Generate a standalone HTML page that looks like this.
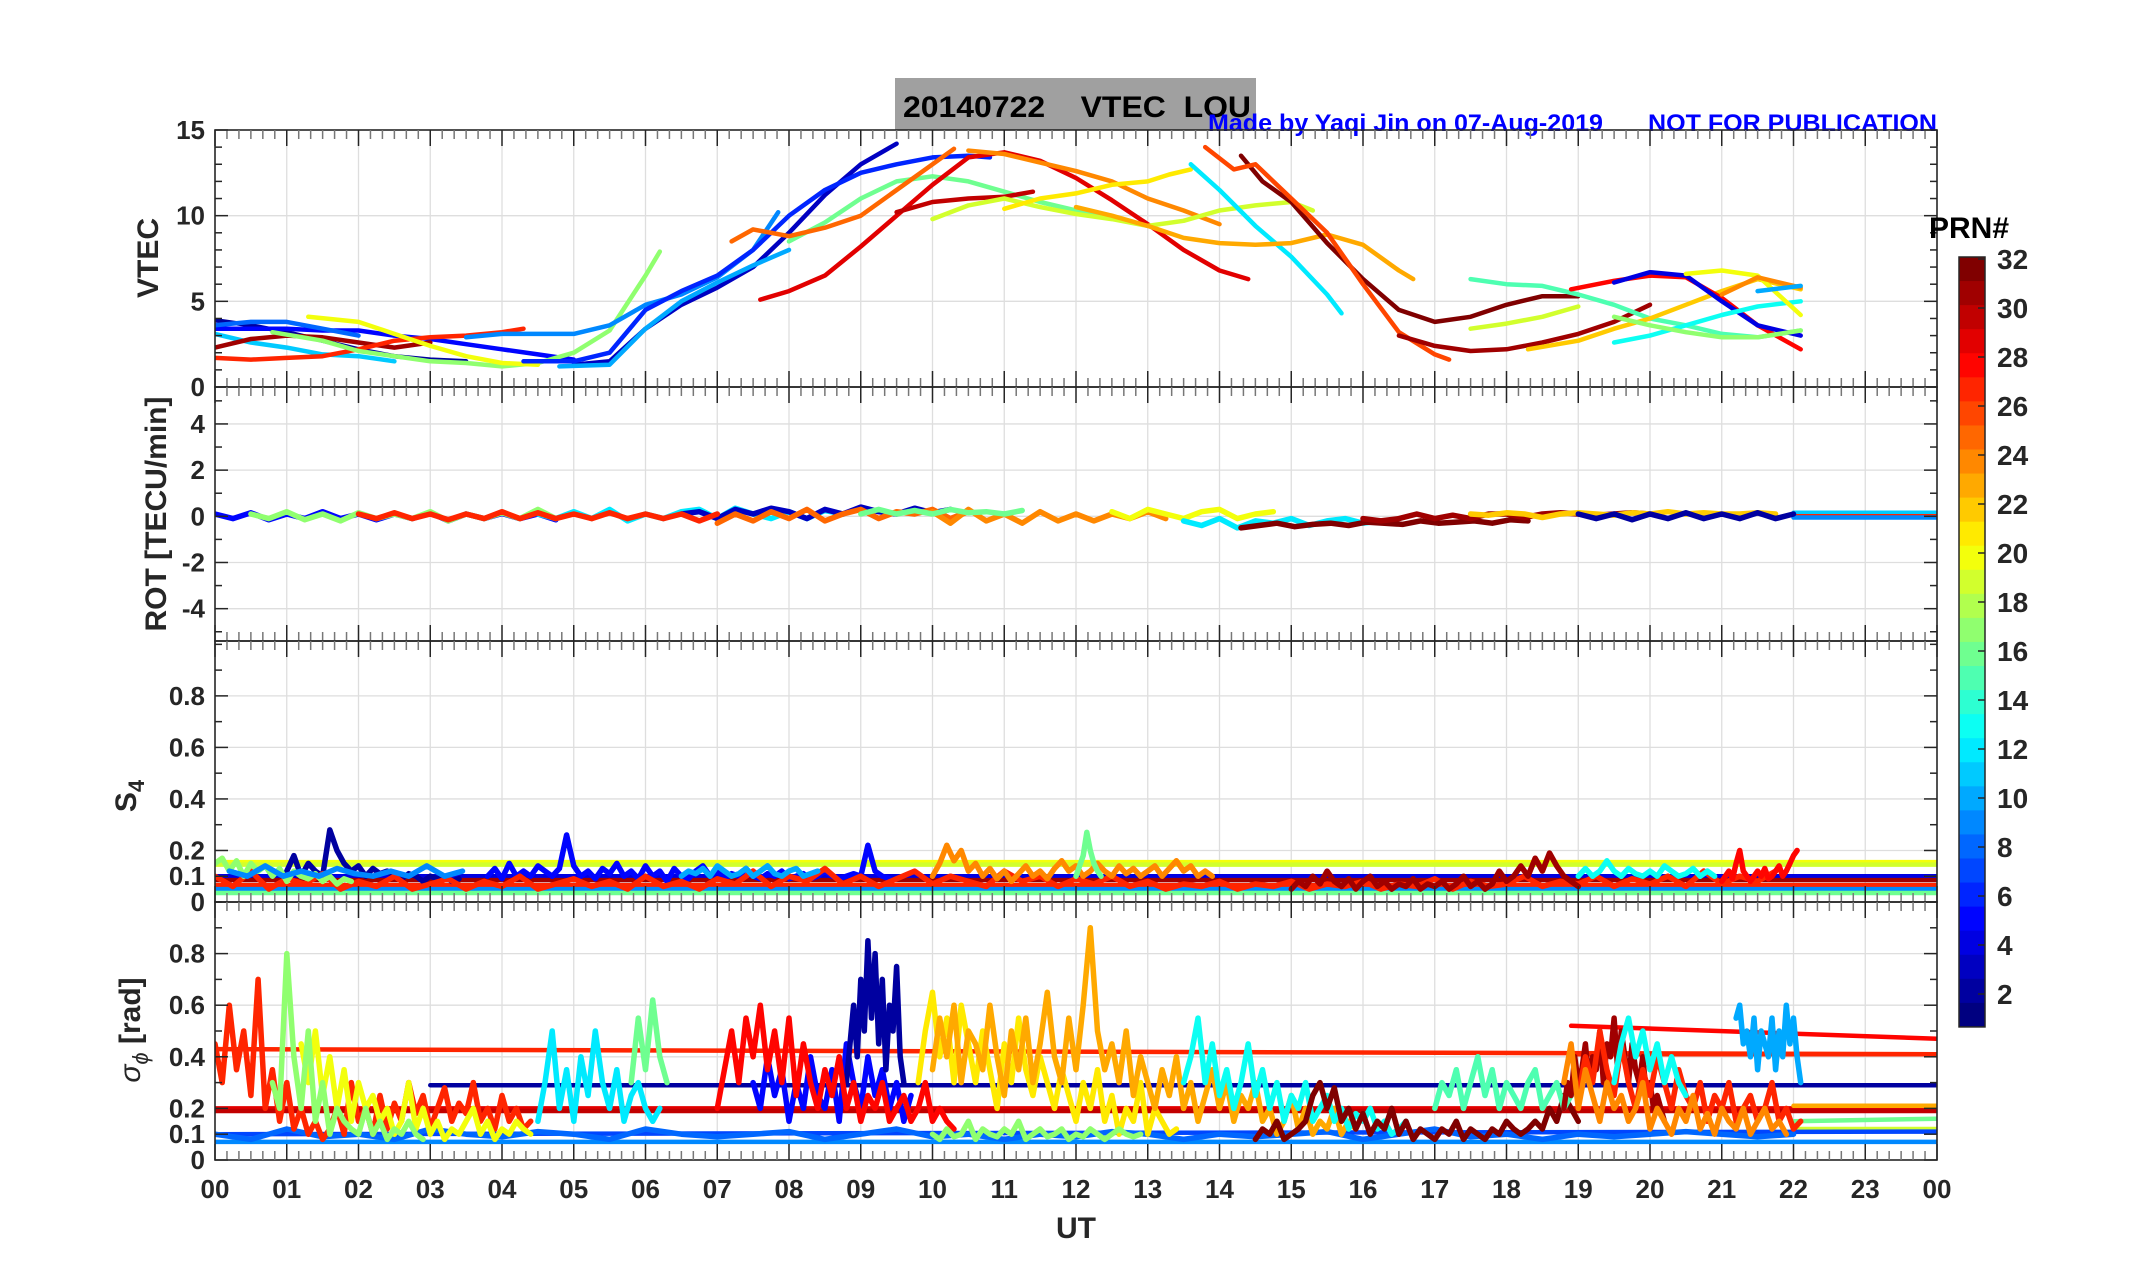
<!DOCTYPE html>
<html><head><meta charset="utf-8"><title>20140722 VTEC LOU</title>
<style>
html,body{margin:0;padding:0;background:#fff;}
svg{display:block;font-family:"Liberation Sans",Arial,sans-serif;}
</style></head>
<body>
<svg id="chart" width="2153" height="1286" viewBox="0 0 2153 1286" xmlns="http://www.w3.org/2000/svg">
<rect x="0" y="0" width="2153" height="1286" fill="#fff"/>
<rect x="895" y="78" width="361" height="52" fill="#a0a0a0"/>
<text x="903" y="117" font-size="30" font-weight="bold" fill="#000" xml:space="preserve" textLength="348" lengthAdjust="spacingAndGlyphs">20140722    VTEC  LOU</text>
<text x="1208" y="131" font-size="24" font-weight="bold" fill="#0000ff" textLength="395" lengthAdjust="spacingAndGlyphs">Made by Yaqi Jin on 07-Aug-2019</text>
<text x="1648" y="131" font-size="24" font-weight="bold" fill="#0000ff" textLength="289" lengthAdjust="spacingAndGlyphs">NOT FOR PUBLICATION</text>
<g id="layer"></g>
</svg>
<script>
// ---------------- DATA ----------------
const xTickLabels = ["00","01","02","03","04","05","06","07","08","09","10","11","12","13","14","15","16","17","18","19","20","21","22","23","00"];
const cbTickLabels = [2,4,6,8,10,12,14,16,18,20,22,24,26,28,30,32];

// VTEC arcs: PRN, times (UT h), values (TECU)
const vtecPrn = [2,5,8,11,31,27,17,20,9,3,6,10,16,25,29,30,24,19,21,12,23,32,26,31,15,19,22,28,4,13,17,20,24,10];
const vtecT = [
 [0,0.5,1,1.5,2,2.5,3,3.5],
 [0,0.5,1,1.5,2,2.5,3,3.5,4,4.5,5],
 [0,0.5,1,1.5,2],
 [0,0.5,1,1.5,2,2.5],
 [0,0.5,1,1.5,2,2.5,3],
 [0,0.5,1,1.5,2,2.5,3,3.5,4,4.3],
 [0.8,1.5,2,2.5,3,3.5,4,4.5,5,5.5,6,6.2],
 [1.3,2,2.5,3,3.5,4,4.5],
 [3.5,4,4.5,5,5.5,6,6.5,7,7.5,7.85],
 [5,5.5,6,6.5,7,7.5,8,8.5,9,9.5],
 [4.3,5,5.5,6,6.5,7,7.5,8,8.5,9,9.5,10,10.5,10.8],
 [4.8,5.5,6,6.5,7,7.5,8],
 [8,8.5,9,9.5,10,10.5,11,11.5,12,12.5],
 [7.2,7.5,8,8.5,9,9.5,10,10.3],
 [7.6,8,8.5,9,9.5,10,10.5,11,11.5,12,12.5,13,13.5,14,14.4],
 [9.5,10,10.5,11,11.4],
 [10.5,11,11.5,12,12.5,13,13.5,14],
 [10,10.5,11,11.5,12,12.5,13,13.5,14,14.5,15,15.3],
 [11,11.5,12,12.5,13,13.3,13.6],
 [13.6,14,14.5,15,15.5,15.7],
 [12,12.5,13,13.5,14,14.5,15,15.5,16,16.5,16.7],
 [14.3,14.6,15,15.5,16,16.5,17,17.5,18,18.5,19],
 [13.8,14.2,14.5,15,15.5,16,16.5,17,17.2],
 [16.5,17,17.5,18,18.5,19,19.5,20],
 [17.5,18,18.5,19,19.5,20,20.5,21,21.5,22.1],
 [17.5,18,18.5,19],
 [18.3,19,19.5,20,20.5,21,21.5,22.1],
 [18.9,19.5,20,20.5,21,21.5,22.1],
 [19.5,20,20.5,21,21.5,22.1],
 [19.5,20,20.5,21,21.5,22.1],
 [19.5,20,20.5,21,21.5,22.1],
 [20.5,21,21.5,22.1],
 [21,21.5,22.1],
 [21.5,22.1]
];
const vtecV = [
 [3.9,3.6,3.2,2.7,2.2,1.8,1.6,1.5],
 [3.4,3.4,3.4,3.3,3.3,3.0,2.8,2.5,2.2,1.9,1.6],
 [3.6,3.8,3.8,3.4,3.0],
 [3.1,2.6,2.3,1.9,1.8,1.5],
 [2.3,2.8,3.0,2.9,2.6,2.3,2.6],
 [1.7,1.6,1.7,1.8,2.2,2.7,2.9,3.0,3.2,3.4],
 [3.2,2.7,2.1,1.8,1.5,1.4,1.2,1.4,2.0,3.3,6.5,7.9],
 [4.1,3.8,3.1,2.4,1.8,1.4,1.3],
 [2.9,3.1,3.1,3.1,3.6,4.8,5.4,6.4,8.0,10.2],
 [1.3,1.5,3.4,4.8,5.8,7.0,9.0,11.2,13.0,14.2],
 [1.5,1.5,2.0,4.5,5.6,6.5,8.0,10.0,11.5,12.5,13.0,13.4,13.5,13.4],
 [1.2,1.3,3.4,5.0,6.1,7.1,8.0],
 [8.5,9.6,11.0,12.0,12.3,12.0,11.4,10.8,10.3,10.0],
 [8.5,9.2,8.8,9.3,10.0,11.5,13.0,13.9],
 [5.1,5.6,6.5,8.2,10.0,11.8,13.4,13.7,13.2,12.2,10.9,9.5,8.0,6.8,6.3],
 [10.2,10.8,11.0,11.1,11.4],
 [13.8,13.6,13.1,12.6,12.0,11.0,10.3,9.5],
 [9.8,10.6,11.0,10.5,10.1,9.8,9.4,9.7,10.3,10.6,10.8,10.3],
 [10.4,11.0,11.3,11.8,12.0,12.4,12.7],
 [13.0,11.5,9.4,7.6,5.4,4.3],
 [10.5,10.0,9.4,8.7,8.4,8.3,8.4,8.9,8.3,6.8,6.3],
 [13.5,12.0,10.8,8.4,6.3,4.5,3.8,4.1,4.8,5.3,5.3],
 [14.0,12.7,13.0,11.0,9.0,6.0,3.2,1.9,1.6],
 [3.0,2.4,2.1,2.2,2.6,3.1,3.8,4.8],
 [6.3,6.0,5.9,5.4,4.8,4.0,3.6,3.1,2.9,3.3],
 [3.4,3.7,4.1,4.7],
 [2.2,2.7,3.4,4.0,4.8,5.6,6.3,5.7],
 [5.7,6.2,6.5,6.4,5.2,3.6,2.2],
 [6.1,6.7,6.5,5.0,3.6,3.0],
 [2.6,3.0,3.6,4.2,4.7,5.0],
 [4.1,3.6,3.2,2.9,2.9,3.3],
 [6.6,6.8,6.5,4.2],
 [5.4,6.4,5.8],
 [5.6,5.9]
];

// ROT noisy traces (TECU/min), sampled every rotDt hours from rotT0
const rotPrn = [5,17,12,3,27,25,24,20,12,32,31,22,2,16];
const rotT0 = [0,0.5,4.5,6.5,2.0,7.0,10.0,12.5,13.5,14.3,16.0,17.5,19.0,9.0];
const rotV = [
 [0.1,-0.1,0.15,-0.15,0.1,-0.1,0.2,-0.1,0.1,-0.15,0.1,-0.1,0.15,-0.2,0.1,-0.1,0.12,-0.1,0.1,-0.15],
 [0.1,-0.1,0.2,-0.15,0.1,-0.2,0.15,-0.1,0.1,-0.1,0.2,-0.2,0.1,-0.1,0.15,-0.1,0.3,-0.1],
 [0.1,-0.1,0.2,-0.1,0.3,-0.2,0.1,-0.1,0.2,0.3,-0.1,0.35,0.1,-0.1,0.2,-0.1,0.25,0.1],
 [0.1,0.2,-0.1,0.3,0.1,0.35,0.2,-0.1,0.3,0.1,0.4,0.2,0.1,0.35,0.15,0.3],
 [0.1,-0.1,0.15,-0.1,0.1,-0.15,0.1,-0.1,0.2,-0.1,0.15,-0.1,0.1,-0.1,0.15,-0.1,0.1,-0.1,0.1,-0.2,0.1],
 [-0.3,0.1,-0.2,0.2,-0.1,0.3,-0.2,0.1,0.3,-0.1,0.2,0.1,0.3,-0.1,0.2],
 [0.2,-0.3,0.3,-0.2,0.1,-0.3,0.2,-0.2,0.1,-0.2,0.1,-0.1,0.2,-0.1],
 [0.2,-0.1,0.3,0.1,-0.1,0.2,0.3,-0.1,0.1,0.2],
 [-0.2,-0.4,-0.1,-0.5,-0.2,-0.3,-0.1,-0.4,-0.2,-0.1,-0.3,-0.2],
 [-0.5,-0.4,-0.3,-0.45,-0.35,-0.3,-0.4,-0.25,-0.3,-0.35,-0.2,-0.3,-0.25,-0.2,-0.3,-0.15,-0.2],
 [-0.1,-0.2,-0.1,0.1,-0.1,0.05,-0.1,0.1,0.1,-0.05,0.1,0.15,0.1,0.05,0.1,0.15,0.1],
 [0.1,0.05,0.15,0.1,-0.05,0.1,0.15,0.1,0.05,0.15,0.1,0.2,0.1,0.15,0.1,0.1,0.15,0.1],
 [0.1,-0.1,0.1,-0.15,0.1,-0.1,0.15,-0.1,0.1,-0.1,0.15,-0.1,0.1],
 [0.1,0.3,0.1,0.25,0.1,0.3,0.15,0.2,0.1,0.25]
];
const rotDt = 0.25;
// ROT flat fill-in lines: PRN, t0, t1, value
const rotFlatPrn = [11,27,9];
const rotFlatT0 = [22,22,22];
const rotFlatT1 = [24,24,24];
const rotFlatV = [0.15,0.0,-0.05];

// S4 noisy traces
const s4Prn = [2,5,27,17,31,24,28,10,16,13,9];
const s4T0 = [1.0,3.8,0.0,0.0,15.0,10.0,21.0,6.5,12.0,19.0,0.2];
const s4Dt = [0.1,0.1,0.25,0.1,0.1,0.1,0.05,0.1,0.05,0.1,0.25];
const s4V = [
 [0.12,0.18,0.1,0.15,0.12,0.1,0.28,0.2,0.15,0.12,0.14,0.1,0.13,0.11,0.12,0.1,0.09,0.11,0.1,0.08,0.1,0.09,0.1,0.08,0.09],
 [0.1,0.13,0.09,0.15,0.1,0.12,0.1,0.14,0.12,0.1,0.13,0.26,0.14,0.1,0.12,0.09,0.13,0.11,0.15,0.1,0.12,0.09,0.14,0.1,0.12,0.08,0.13,0.1,0.09,0.12,0.14,0.1,0.12,0.09,0.11,0.1,0.13,0.1,0.09,0.11,0.1,0.12,0.09,0.1,0.11,0.09,0.1,0.12,0.1,0.09,0.1,0.11,0.1,0.22,0.12,0.1,0.09],
 [0.1,0.06,0.12,0.05,0.09,0.07,0.11,0.05,0.08,0.06,0.1,0.05,0.07,0.09,0.05,0.08,0.06,0.1,0.05,0.07,0.09,0.06,0.08,0.05,0.1,0.06,0.08,0.05,0.09,0.07,0.12,0.06,0.1,0.08,0.13,0.07,0.1,0.06,0.09,0.12,0.07,0.1,0.08,0.06,0.12,0.08,0.1,0.06,0.09,0.07,0.1,0.06,0.08,0.05,0.07,0.06,0.08,0.05,0.07,0.06,0.08,0.05,0.07,0.06,0.08,0.05,0.07,0.06,0.09,0.05,0.08,0.06,0.07,0.1,0.06,0.08,0.07,0.1,0.06,0.09,0.07,0.1,0.06,0.12,0.07,0.1,0.08,0.12],
 [0.15,0.17,0.12,0.16,0.1,0.15,0.12,0.14,0.1,0.13,0.08,0.12,0.1,0.09,0.11,0.08,0.1,0.07,0.09,0.08],
 [0.05,0.08,0.06,0.1,0.07,0.12,0.08,0.06,0.09,0.05,0.08,0.1,0.06,0.08,0.05,0.07,0.06,0.09,0.05,0.07,0.06,0.08,0.05,0.07,0.1,0.06,0.08,0.05,0.07,0.12,0.08,0.1,0.14,0.1,0.17,0.12,0.19,0.14,0.1,0.08,0.06],
 [0.1,0.15,0.22,0.16,0.2,0.12,0.15,0.1,0.13,0.09,0.12,0.08,0.11,0.14,0.1,0.12,0.09,0.13,0.16,0.12,0.14,0.1,0.12,0.15,0.12,0.1,0.14,0.11,0.13,0.1,0.12,0.14,0.1,0.13,0.16,0.12,0.14,0.1,0.12,0.1],
 [0.08,0.1,0.12,0.09,0.15,0.2,0.12,0.1,0.08,0.1,0.12,0.1,0.13,0.09,0.1,0.12,0.14,0.1,0.12,0.15,0.18,0.2],
 [0.1,0.12,0.11,0.13,0.1,0.14,0.12,0.1,0.11,0.13,0.1,0.12,0.14,0.11,0.1,0.12,0.13,0.1,0.11,0.12],
 [0.1,0.14,0.18,0.27,0.2,0.15,0.12,0.1],
 [0.1,0.13,0.1,0.12,0.16,0.12,0.1,0.13,0.11,0.1,0.12,0.1,0.14,0.12,0.1,0.11,0.13,0.1,0.12,0.1],
 [0.12,0.1,0.14,0.1,0.12,0.1,0.13,0.11,0.1,0.12,0.1,0.14,0.1,0.12]
];
const s4FlatPrn = [20,19,4,31,27,9,16];
const s4FlatT0 = [0,0,0,0,0,0,0];
const s4FlatT1 = [24,24,24,24,24,24,24];
const s4FlatV = [0.155,0.145,0.1,0.085,0.065,0.05,0.035];

// Sigma-phi noisy traces (rad)
const spPrn = [8,27,20,17,12,16,5,2,28,21,23,17,13,32,15,31,27,24,10,13];
const spT0 = [0.0,0.0,1.2,0.8,4.5,5.8,7.5,8.8,7.0,9.8,10.0,10.0,13.5,14.5,17.0,18.8,19.0,18.8,21.2,19.5];
const spDt = [0.5,0.1,0.1,0.1,0.1,0.1,0.1,0.05,0.1,0.1,0.1,0.1,0.1,0.1,0.1,0.05,0.1,0.1,0.05,0.1];
const spV = [
 [0.1,0.08,0.12,0.09,0.1,0.08,0.12,0.1,0.09,0.11,0.1,0.08,0.12,0.1,0.09,0.1,0.11,0.08,0.1,0.12,0.09,0.1,0.08,0.1,0.09,0.11,0.1,0.08,0.1,0.09,0.1,0.11,0.08,0.1,0.12,0.09,0.1,0.08,0.1,0.09,0.1,0.11,0.1,0.09,0.1],
 [0.45,0.3,0.6,0.35,0.5,0.25,0.7,0.2,0.35,0.15,0.3,0.12,0.2,0.1,0.15,0.08,0.12,0.2,0.1,0.3,0.15,0.2,0.1,0.25,0.12,0.22,0.15,0.3,0.18,0.25,0.12,0.2,0.28,0.15,0.22,0.18,0.3,0.15,0.2,0.12,0.25,0.15,0.2,0.12,0.15],
 [0.45,0.3,0.5,0.25,0.4,0.2,0.35,0.15,0.3,0.2,0.25,0.15,0.2,0.1,0.15,0.3,0.12,0.2,0.1,0.15,0.08,0.12,0.1,0.15,0.2,0.1,0.15,0.08,0.12,0.1,0.15,0.12,0.1],
 [0.3,0.2,0.8,0.4,0.2,0.5,0.15,0.3,0.1,0.2,0.15,0.12,0.1,0.2,0.1,0.15,0.08,0.12,0.1,0.15,0.1,0.08],
 [0.15,0.3,0.5,0.2,0.35,0.15,0.4,0.25,0.5,0.3,0.2,0.35,0.15,0.25,0.3,0.2,0.15,0.2],
 [0.3,0.55,0.35,0.62,0.4,0.3],
 [0.3,0.2,0.4,0.25,0.35,0.15,0.3,0.2,0.4,0.25,0.2,0.35,0.15,0.45,0.3,0.2,0.4,0.25,0.35,0.2,0.3,0.15,0.25],
 [0.3,0.45,0.6,0.4,0.7,0.5,0.85,0.55,0.8,0.45,0.7,0.35,0.6,0.5,0.75,0.4,0.3],
 [0.2,0.35,0.5,0.3,0.55,0.4,0.6,0.35,0.5,0.3,0.55,0.25,0.45,0.3,0.2,0.35,0.25,0.4,0.2,0.3,0.15,0.25,0.2,0.3,0.15,0.2,0.25,0.15,0.2,0.3,0.15,0.2,0.15,0.12],
 [0.3,0.5,0.65,0.4,0.55,0.3,0.6,0.45,0.3,0.5,0.35,0.2,0.45,0.3,0.55,0.35,0.25,0.4,0.3,0.2,0.35,0.25,0.15,0.3,0.2,0.35,0.15,0.25,0.1,0.2,0.15,0.3,0.1,0.2,0.15,0.1,0.12],
 [0.35,0.55,0.4,0.6,0.3,0.5,0.45,0.35,0.6,0.4,0.25,0.5,0.35,0.55,0.3,0.45,0.65,0.4,0.3,0.55,0.35,0.6,0.9,0.5,0.35,0.45,0.3,0.5,0.25,0.4,0.3,0.2,0.35,0.25,0.4,0.2,0.3,0.15,0.25,0.35,0.2,0.3,0.15,0.25,0.2,0.3,0.15,0.2,0.1,0.15,0.25,0.12,0.2,0.1,0.15,0.12,0.2,0.1,0.15,0.12],
 [0.1,0.08,0.12,0.09,0.1,0.15,0.08,0.12,0.1,0.09,0.12,0.1,0.15,0.08,0.1,0.12,0.09,0.1,0.12,0.08,0.1,0.09,0.12,0.1,0.08,0.1,0.12,0.1,0.09,0.1],
 [0.3,0.4,0.55,0.3,0.45,0.25,0.35,0.2,0.3,0.45,0.25,0.35,0.2,0.3,0.15,0.25,0.2,0.3,0.15,0.2,0.25,0.15,0.2,0.12,0.18,0.15,0.2,0.12,0.15,0.1,0.12,0.15],
 [0.08,0.12,0.1,0.15,0.08,0.1,0.12,0.15,0.25,0.3,0.2,0.28,0.15,0.2,0.12,0.18,0.1,0.15,0.12,0.2,0.1,0.15,0.08,0.12,0.1,0.08,0.12,0.1,0.15,0.08,0.12,0.1,0.08,0.12,0.1,0.15,0.12,0.1,0.12,0.15,0.12,0.2,0.15,0.25,0.2,0.15],
 [0.2,0.3,0.25,0.35,0.2,0.3,0.4,0.25,0.35,0.2,0.3,0.25,0.2,0.3,0.35,0.2,0.25,0.3,0.2,0.25],
 [0.2,0.3,0.25,0.4,0.3,0.35,0.45,0.3,0.4,0.35,0.5,0.3,0.45,0.4,0.55,0.35,0.5,0.4,0.3,0.45,0.35,0.3,0.4,0.25,0.3,0.2,0.25,0.2,0.15],
 [0.25,0.4,0.3,0.5,0.35,0.25,0.45,0.3,0.2,0.35,0.25,0.4,0.3,0.2,0.35,0.25,0.2,0.3,0.15,0.25,0.2,0.3,0.15,0.2,0.25,0.15,0.2,0.3,0.15,0.2,0.12,0.15],
 [0.3,0.45,0.2,0.35,0.25,0.15,0.3,0.2,0.25,0.15,0.2,0.3,0.12,0.2,0.15,0.1,0.2,0.15,0.25,0.12,0.18,0.1,0.2,0.15,0.12,0.2,0.1,0.15,0.2,0.12,0.15,0.1],
 [0.55,0.6,0.45,0.5,0.4,0.55,0.35,0.5,0.45,0.4,0.55,0.35,0.5,0.4,0.6,0.45,0.55,0.4,0.3],
 [0.3,0.45,0.55,0.4,0.5,0.35,0.45,0.3,0.4,0.3,0.25]
];
const spFlatPrn = [27,28,27,2,29,30,23,16,19,7,9];
const spFlatT0 = [0,18.9,18.9,3,0,0,22,22,22,0,0];
const spFlatT1 = [24,24,24,24,24,24,24,24,24,24,24];
const spFlatV0 = [0.43,0.52,0.41,0.29,0.2,0.19,0.21,0.15,0.12,0.1,0.07];
const spFlatV1 = [0.41,0.47,0.41,0.29,0.2,0.19,0.21,0.16,0.12,0.11,0.07];

// ---------------- RENDER ----------------
const NS = "http://www.w3.org/2000/svg";
const layer = document.getElementById("layer");
const X0 = 215, X1 = 1937;
const xs = t => X0 + (X1 - X0) * t / 24;
function el(tag, attrs, parent){
  const e = document.createElementNS(NS, tag);
  for (const k in attrs) e.setAttribute(k, attrs[k]);
  (parent || layer).appendChild(e);
  return e;
}
function clamp(v){ return Math.max(0, Math.min(1, v)); }
function jet(p){
  const v = (p - 1) / 31;
  const r = clamp(Math.min(4*v - 1.5, -4*v + 4.5));
  const g = clamp(Math.min(4*v - 0.5, -4*v + 3.5));
  const b = clamp(Math.min(4*v + 0.5, -4*v + 2.5));
  return `rgb(${Math.round(r*255)},${Math.round(g*255)},${Math.round(b*255)})`;
}
const panels = [
  {name:"vtec", top:130, bot:387, ymin:0, ymax:15, ticks:[0,5,10,15], grid:[5,10], minor:1, labels:["0","5","10","15"]},
  {name:"rot", top:387, bot:641, ymin:-5.4, ymax:5.6, ticks:[-4,-2,0,2,4], grid:[-4,-2,0,2,4], minor:1, labels:["-4","-2","0","2","4"]},
  {name:"s4", top:641, bot:902, ymin:0, ymax:1.013, ticks:[0,0.1,0.2,0.4,0.6,0.8], grid:[0.2,0.4,0.6,0.8], minor:0.1, labels:["0","0.1","0.2","0.4","0.6","0.8"]},
  {name:"sigma-phi", top:902, bot:1160, ymin:0, ymax:1.0, ticks:[0,0.1,0.2,0.4,0.6,0.8], grid:[0.2,0.4,0.6,0.8], minor:0.1, labels:["0","0.1","0.2","0.4","0.6","0.8"]}
];
panels.forEach(p => { p.ys = v => p.bot - (p.bot - p.top) * (v - p.ymin) / (p.ymax - p.ymin); });

const defs = el("defs", {});
panels.forEach((p,i) => {
  const cp = el("clipPath", {id:"clip"+i}, defs);
  el("rect", {x:X0, y:p.top, width:X1-X0, height:p.bot-p.top}, cp);
});

panels.forEach(p => {
  const g = el("g", {});
  
  
  for (let h = 1; h < 24; h++) el("line", {x1:xs(h), x2:xs(h), y1:p.top, y2:p.bot, stroke:"#dedede", "stroke-width":1.3}, g);
  p.grid.forEach(v => el("line", {x1:X0, x2:X1, y1:p.ys(v), y2:p.ys(v), stroke:"#dedede", "stroke-width":1.3}, g));
});

function poly(points, color, w, parent){
  const d = points.map((q,i) => (i ? "L" : "M") + q[0].toFixed(1) + "," + q[1].toFixed(1)).join("");
  return el("path", {d:d, fill:"none", stroke:color, "stroke-width":w, "stroke-linejoin":"round", "stroke-linecap":"round"}, parent);
}

{
  const p = panels[0];
  const g = el("g", {"clip-path":"url(#clip0)"});
  
  
  vtecPrn.forEach((prn,i) => {
    const pts = vtecT[i].map((t,j) => [xs(t), p.ys(vtecV[i][j])]);
    const path = poly(pts, jet(prn), 4.5, g);
    
    
  });
}
{
  const p = panels[1];
  const g = el("g", {"clip-path":"url(#clip1)"});
  
  
  rotFlatPrn.forEach((prn,i) => {
    const line = poly([[xs(rotFlatT0[i]), p.ys(rotFlatV[i])],[xs(rotFlatT1[i]), p.ys(rotFlatV[i])]], jet(prn), 4.5, g);
    
    
  });
  rotPrn.forEach((prn,i) => {
    const pts = rotV[i].map((v,j) => [xs(rotT0[i] + j*rotDt), p.ys(v)]);
    const path = poly(pts, jet(prn), 5.5, g);
    
    
  });
}
{
  const p = panels[2];
  const g = el("g", {"clip-path":"url(#clip2)"});
  
  
  s4FlatPrn.forEach((prn,i) => {
    const line = poly([[xs(s4FlatT0[i]), p.ys(s4FlatV[i])],[xs(s4FlatT1[i]), p.ys(s4FlatV[i])]], jet(prn), 4.5, g);
    
    
  });
  s4Prn.forEach((prn,i) => {
    const pts = s4V[i].map((v,j) => [xs(s4T0[i] + j*s4Dt[i]), p.ys(v)]);
    const path = poly(pts, jet(prn), 5.5, g);
    
    
  });
}
{
  const p = panels[3];
  const g = el("g", {"clip-path":"url(#clip3)"});
  
  
  spFlatPrn.forEach((prn,i) => {
    const line = poly([[xs(spFlatT0[i]), p.ys(spFlatV0[i])],[xs(spFlatT1[i]), p.ys(spFlatV1[i])]], jet(prn), 4.5, g);
    
    
  });
  spPrn.forEach((prn,i) => {
    const pts = spV[i].map((v,j) => [xs(spT0[i] + j*spDt[i]), p.ys(v)]);
    const path = poly(pts, jet(prn), 5.5, g);
    
    
  });
}

panels.forEach((p,pi) => {
  const g = el("g", {});
  
  
  el("rect", {x:X0, y:p.top, width:X1-X0, height:p.bot-p.top, fill:"none", stroke:"#262626", "stroke-width":1.6}, g);
  for (let m = 0; m <= 144; m++) {
    const x = X0 + (X1-X0)*m/144;
    const major = m % 6 === 0;
    const L = major ? 16 : 9;
    const c = major ? "#262626" : "#777";
    el("line", {x1:x, x2:x, y1:p.top, y2:p.top+L, stroke:c, "stroke-width":1.5}, g);
    el("line", {x1:x, x2:x, y1:p.bot, y2:p.bot-L, stroke:c, "stroke-width":1.5}, g);
  }
  for (let v = Math.ceil(p.ymin/p.minor)*p.minor; v <= p.ymax + 1e-9; v += p.minor) {
    const y = p.ys(v);
    const major = p.ticks.some(t => Math.abs(t - v) < 1e-6);
    const L = major ? 13 : 7;
    el("line", {x1:X0, x2:X0+L, y1:y, y2:y, stroke:"#262626", "stroke-width":1.5}, g);
    el("line", {x1:X1, x2:X1-L, y1:y, y2:y, stroke:"#262626", "stroke-width":1.5}, g);
  }
  p.ticks.forEach((t,i) => {
    const tx = el("text", {x:205, y:p.ys(t)+9, "text-anchor":"end", "font-size":26, "font-weight":"bold", fill:"#262626"}, g);
    tx.textContent = p.labels[i];
    
    
  });
});
xTickLabels.forEach((lab,i) => {
  const tx = el("text", {x:xs(i), y:1198, "text-anchor":"middle", "font-size":26, "font-weight":"bold", fill:"#262626"});
  tx.textContent = lab;
  
  
});
{
  const t = el("text", {x:xs(12), y:1238, "text-anchor":"middle", "font-size":30, "font-weight":"bold", fill:"#262626"});
  t.textContent = "UT";
  
  
}
function yTitle(text, x, y, name, html){
  const t = el("text", {x:0, y:0, transform:`translate(${x},${y}) rotate(-90)`, "text-anchor":"middle", "font-size":30, "font-weight":"bold", fill:"#262626"});
  if (html) t.innerHTML = html; else t.textContent = text;
  
  
}
yTitle("VTEC", 158, 258, 'vtec-axis-title');
yTitle("ROT [TECU/min]", 166, 514, 'rot-axis-title');
yTitle("", 136, 796, 's4-axis-title', 'S<tspan font-size="22" dy="8">4</tspan>');
yTitle("", 140, 1030, 'sigma-axis-title', '<tspan font-weight="normal" font-style="italic">σ</tspan><tspan font-size="22" dy="8" font-weight="normal" font-style="italic">ϕ</tspan><tspan dy="-8"> [rad]</tspan>');

{
  const g = el("g", {});
  
  
  const cx = 1959, cw = 26, ctop = 257, ch = 24.06;
  for (let k = 32; k >= 1; k--) {
    const r = el("rect", {x:cx, y:ctop + (32-k)*ch, width:cw, height:ch+0.6, fill:jet(k)}, g);
    
    
  }
  el("rect", {x:cx, y:ctop, width:cw, height:32*ch, fill:"none", stroke:"#262626", "stroke-width":1.5}, g);
  cbTickLabels.forEach(n => {
    const y = 259 + (32 - n) * 24.5;
    el("line", {x1:cx+cw-7, x2:cx+cw, y1:y, y2:y, stroke:"#262626", "stroke-width":1.5}, g);
    const t = el("text", {x:1997, y:y+10, "font-size":28, "font-weight":"bold", fill:"#262626"}, g);
    t.textContent = n;
    
    
  });
  const t = el("text", {x:1929, y:238, "font-size":30, "font-weight":"bold", fill:"#000"}, g);
  t.textContent = "PRN#";
  
  
}
</script>
</body></html>
